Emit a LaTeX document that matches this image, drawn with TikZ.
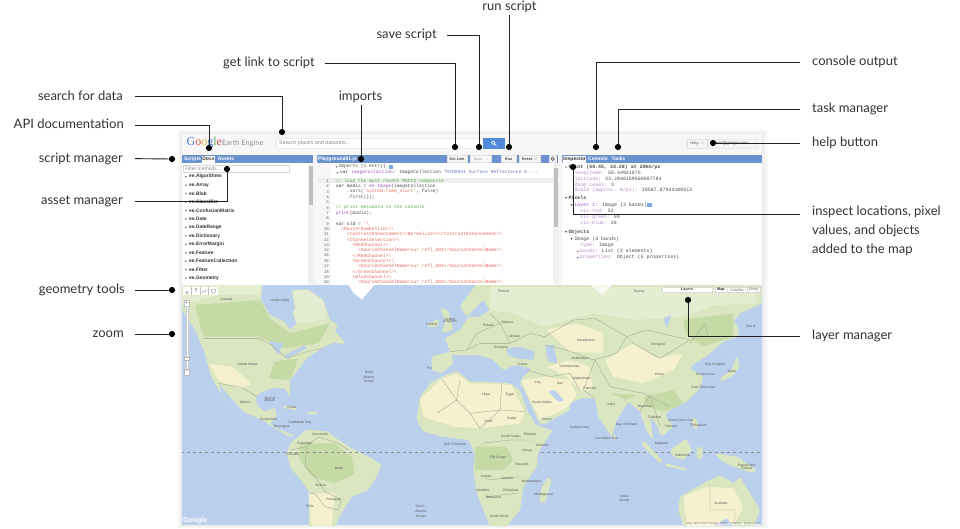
\documentclass[tikz,border=0pt]{standalone}
\usepackage{fontspec}
\setmainfont{Lato}
\newfontfamily\cmono{Liberation Mono}
\newfontfamily\uisans{Liberation Sans}
\newfontfamily\logoserif{Liberation Serif}
\definecolor{ink}{HTML}{222222}
\definecolor{labelgrey}{HTML}{333333}
\definecolor{headblue}{HTML}{6A92CF}
\definecolor{btnblue}{HTML}{4F8BD8}
\definecolor{ocean}{HTML}{BBD0ED}
\definecolor{landg}{HTML}{D9E6BF}
\definecolor{forest}{HTML}{C4DBA6}
\definecolor{pale}{HTML}{E4ECD2}
\definecolor{desert}{HTML}{F5F1CE}
\definecolor{border}{HTML}{9FA597}
\definecolor{tagred}{HTML}{E4685C}
\definecolor{cmtgreen}{HTML}{58AC4C}
\definecolor{kwpurple}{HTML}{9A55BE}
\definecolor{keylilac}{HTML}{B488CC}
\definecolor{strblue}{HTML}{6B78C8}
\newcount\mlcount
\newcommand{\ml}[3]{\global\advance\mlcount by 1 \node[maplab] (ml\the\mlcount) at (#1,#2) {#3};}
\newcommand{\cl}[3]{%
  \pgfmathsetmacro{\cy}{181+(#1-1)*5.33}%
  \pgfmathsetmacro{\cx}{335.7+#2*2.77}%
  \node[numtxt] (num#1) at (329,\cy) {#1};
  \node[codetxt] (code#1) at (\cx,\cy) {#3};}
\newcommand{\rp}[4][]{\node[rptxt,#1] (rp#2#3) at (#2,#3) {#4};}
\newcommand{\tridown}[2]{\fill[gray!70!black] (#1-1,#2-0.8) -- (#1+1,#2-0.8) -- (#1,#2+0.8) -- cycle;}
\newcommand{\triright}[2]{\fill[gray!70!black] (#1-0.7,#2-1) -- (#1+0.9,#2) -- (#1-0.7,#2+1) -- cycle;}
\tikzset{
  lab/.style={inner sep=0pt,font=\fontsize{13}{15}\selectfont,text=labelgrey,text height=10pt,text depth=3pt},
  conn/.style={draw=ink,line width=0.9pt},
  dot/.style={circle,fill=black,inner sep=0pt,minimum size=6.2pt},
  maplab/.style={inner sep=0pt,font=\uisans\fontsize{3.4}{4}\selectfont,text=black!65},
  codetxt/.style={inner sep=0pt,anchor=west,font=\cmono\fontsize{4.62}{5}\selectfont},
  numtxt/.style={inner sep=0pt,anchor=east,font=\cmono\fontsize{4.2}{5}\selectfont,text=black!60},
  rptxt/.style={inner sep=0pt,anchor=west,font=\cmono\fontsize{4.95}{5}\selectfont,text=black!70},
  tabw/.style={inner sep=0pt,font=\uisans\bfseries\fontsize{5}{6}\selectfont,text=white},
  tabd/.style={inner sep=0pt,font=\uisans\bfseries\fontsize{5}{6}\selectfont,text=black!80},
  btn/.style={draw=black!12,fill=black!4,inner sep=0pt,font=\uisans\bfseries\fontsize{3.8}{5}\selectfont,text=black!70},
  uitxt/.style={inner sep=0pt,font=\uisans\fontsize{5.4}{6}\selectfont,text=black!45},
  listitem/.style={inner sep=0pt,anchor=west,font=\uisans\bfseries\fontsize{4.9}{6}\selectfont,text=black!80},
  land/.style={fill=landg,draw=none,rounded corners=1.5pt},
  bline/.style={draw=border,line width=0.35pt,rounded corners=1pt},
  scopeA/.style={shift={(175,280)},x=0.33333pt,y=-0.33333pt},
  scopeB/.style={shift={(470,280)},x=0.33333pt,y=-0.33333pt},
}
\begin{document}
\begin{tikzpicture}[x=1pt,y=-1pt]
\useasboundingbox (0,0) rectangle (960,528);
\fill[white] (0,0) rectangle (960,528);
% ---------- application frame ----------
\fill[black!3] (178,130) rectangle (768,528);
\fill[black!7] (180,132) rectangle (765,527);
\fill[black!3] (182,134) rectangle (762,155);
\fill[white] (182,155) rectangle (762,285);
% header
\node[inner sep=0pt,anchor=west,font=\logoserif\fontsize{12}{14}\selectfont] (logo) at (186.5,143)
  {\textcolor[HTML]{4A7FD6}{G}\textcolor[HTML]{D9534A}{o}\textcolor[HTML]{E8B93A}{o}\textcolor[HTML]{4A7FD6}{g}\textcolor[HTML]{5BA85A}{l}\textcolor[HTML]{D9534A}{e}};
\node[inner sep=0pt,anchor=west,font=\fontsize{7.4}{9}\selectfont,text=black!45] (ee) at (222,143.5) {Earth Engine};
\fill[white,draw=black!8] (276,138) rectangle (483,148.5);
\node[uitxt,anchor=west] (searchtxt) at (279,143) {Search places and datasets...};
\fill[btnblue] (483,138) rectangle (505,148.5);
\draw[white,line width=0.6pt] (493.2,142.6) circle (1.8) (494.6,144) -- (496.4,145.8);
\node[btn,minimum width=20pt,minimum height=8.5pt] (help) at (697,143.5) {\textcolor{black!50}{Help\ \ ▾}};
\fill[black!4,draw=black!8] (708,139) rectangle (757,148);
\node[inner sep=0pt,anchor=west,font=\uisans\fontsize{4.1}{5}\selectfont,text=black!70] (acct) at (711,143.5) {admin@google.com};
% ---- panel headers ----
\fill[headblue] (182,155) rectangle (313,163);
\fill[headblue] (317,155) rectangle (558,163);
\fill[headblue] (562,155) rectangle (762,163);
\fill[black!4] (313,155) rectangle (317,285) (558,155) rectangle (562,285);
% left panel
\node[tabw] (tScripts) at (192.5,159) {Scripts};
\fill[white] (201.5,155.5) rectangle (215,163);
\node[tabd] (tDocs) at (208.5,159) {Docs};
\node[tabw] (tAssets) at (226,159) {Assets};
\draw[black!15,fill=white] (183.5,165) rectangle (289,172);
\node[uitxt,anchor=west,font=\uisans\fontsize{5}{6}\selectfont] (filter) at (185,168.6) {Filter methods...};
\fill[black!6] (308,165) rectangle (313,284);
\fill[black!25] (308.5,166) rectangle (312.8,205);
\foreach \t [count=\i from 0] in {Algorithms,Array,Blob,Classifier,ConfusionMatrix,Date,DateRange,Dictionary,ErrorMargin,Feature,FeatureCollection,Filter,Geometry}{
  \pgfmathsetmacro{\ly}{176.7+\i*8.45}
  \triright{186}{\ly}
  \node[listitem] (li\i) at (189,\ly) {ee.\t};
}
% middle panel
\node[inner sep=0pt,anchor=west,font=\uisans\bfseries\fontsize{5}{6}\selectfont,text=white] (pg) at (318,159) {Playground01.js};
\node[btn,minimum width=20.5pt,minimum height=6.5pt] (bLink) at (457,158.8) {Get Link};
\node[btn,minimum width=21pt,minimum height=6.5pt,text=black!30,fill=black!2] (bSave) at (481,158.8) {Save\ \ \ ▾};
\node[btn,minimum width=15pt,minimum height=6.5pt] (bRun) at (508.5,158.8) {Run};
\node[btn,minimum width=21pt,minimum height=6.5pt] (bReset) at (529.5,158.8) {Reset\ \ ▾};
\node[btn,minimum width=7pt,minimum height=7pt] (bGear) at (552.7,158.8) {};
\draw[black!55,line width=0.9pt] (552.7,158.8) circle (1.7);
\fill[black!3] (318,163) rectangle (331,285);
\fill[black!7] (318,178.4) rectangle (553,183.4);
\fill[black!6] (553,164) rectangle (558,284);
\fill[black!25] (554,168) rectangle (558,227);
\begin{scope}
\clip (318,163) rectangle (553,284.5);
\triright{336.5}{166.7}
\node[codetxt,text=black!70] (imp1) at (335.7,166.7) {\ Imports (1 entry)};
\fill[btnblue!75] (388.5,164.8) rectangle (392.7,169);
\triright{337.5}{172.7}
\node[codetxt] (imp2) at (340,172.7) {\textcolor{black!80}{var} \textcolor{kwpurple}{imageCollection}\textcolor{black!70}{: ImageCollection} \textcolor{strblue}{"MYD09A1 Surface Reflectance 8-...}};
\cl{1}{0}{\textcolor{cmtgreen}{// load the most recent MODIS composite}}
\cl{2}{0}{\textcolor{black!80}{var modis =} \textcolor{kwpurple}{ee.Image}\textcolor{black!70}{(imageCollection}}
\cl{3}{4}{\textcolor{black!70}{.sort(}\textcolor{tagred}{'system:time\_start'}\textcolor{black!70}{, false)}}
\cl{4}{4}{\textcolor{black!70}{.first());}}
\cl{5}{0}{}
\cl{6}{0}{\textcolor{cmtgreen}{// print metadata to the console}}
\cl{7}{0}{\textcolor{kwpurple}{print}\textcolor{black!70}{(modis);}}
\cl{8}{0}{}
\cl{9}{0}{\textcolor{black!80}{var sld =} \textcolor{tagred}{'\textbackslash}}
\cl{10}{2}{\textcolor{tagred}{<RasterSymbolizer>\textbackslash}}
\cl{11}{4}{\textcolor{tagred}{<ContrastEnhancement><Normalize/></ContrastEnhancement>\textbackslash}}
\cl{12}{4}{\textcolor{tagred}{<ChannelSelection>\textbackslash}}
\cl{13}{6}{\textcolor{tagred}{<RedChannel>\textbackslash}}
\cl{14}{8}{\textcolor{tagred}{<SourceChannelName>sur\_refl\_b01</SourceChannelName>\textbackslash}}
\cl{15}{6}{\textcolor{tagred}{</RedChannel>\textbackslash}}
\cl{16}{6}{\textcolor{tagred}{<GreenChannel>\textbackslash}}
\cl{17}{8}{\textcolor{tagred}{<SourceChannelName>sur\_refl\_b04</SourceChannelName>\textbackslash}}
\cl{18}{6}{\textcolor{tagred}{</GreenChannel>\textbackslash}}
\cl{19}{6}{\textcolor{tagred}{<BlueChannel>\textbackslash}}
\cl{20}{8}{\textcolor{tagred}{<SourceChannelName>sur\_refl\_b03</SourceChannelName>\textbackslash}}
\end{scope}
% right panel
\fill[white] (563,155.5) rectangle (586,163);
\node[tabd] (tInsp) at (574.5,159) {Inspector};
\node[tabw] (tCons) at (598,159) {Console};
\node[tabw] (tTasks) at (618.5,159) {Tasks};
\tridown{566}{167.3}
\rp[font=\cmono\bfseries\fontsize{4.95}{5}\selectfont]{568.3}{167.3}{Point (50.45, 33.28) at 20km/px}
\rp{574.3}{173.3}{\textcolor{keylilac}{longitude:} 50.44921875}
\rp{574.3}{179}{\textcolor{keylilac}{latitude:} 33.2846159560087784}
\rp{574.3}{184.7}{\textcolor{keylilac}{Zoom Level:} 3}
\rp{574.3}{190.7}{\textcolor{keylilac}{Scale (approx. m/px):} 19567.87924100512}
\tridown{566}{198}
\rp[font=\cmono\bfseries\fontsize{4.95}{5}\selectfont]{568.3}{198}{Pixels}
\tridown{571.5}{205}
\rp{574.3}{205}{\textcolor{kwpurple}{Layer 1:} Image (3 bands)}
\fill[btnblue!75] (647,203) rectangle (652,207.4);
\rp{580}{211}{\textcolor{keylilac}{vis-red:} 52}
\rp{580}{217}{\textcolor{keylilac}{vis-green:} 59}
\rp{580}{222.7}{\textcolor{keylilac}{vis-blue:} 26}
\tridown{566}{232}
\rp[font=\cmono\bfseries\fontsize{4.95}{5}\selectfont]{568.3}{232}{Objects}
\tridown{571.5}{239}
\rp{574.3}{239}{Image (3 bands)}
\rp{580}{245}{\textcolor{keylilac}{type:} Image}
\triright{578}{251.3}
\rp{580}{251.3}{\textcolor{keylilac}{bands:} List (3 elements)}
\triright{578}{257.7}
\rp{580}{257.7}{\textcolor{keylilac}{properties:} Object (5 properties)}
% ---------- map ----------
\begin{scope}
\clip (182,285) rectangle (762,525);
\fill[ocean] (182,285) rectangle (762,525);
\begin{scope}[scopeA]
  % North America
  \fill[land] (22,13) -- (262,13) -- (258,60) -- (285,105) -- (330,125) -- (345,150) -- (365,130) -- (352,100) -- (360,85) -- (350,30) -- (400,28) -- (445,60) -- (465,120) -- (490,135) -- (478,150) -- (512,192) -- (475,188) -- (440,205) -- (425,215) -- (395,235) -- (375,262) -- (345,300) -- (345,352) -- (330,325) -- (300,322) -- (260,335) -- (243,350) -- (245,375) -- (268,395) -- (300,383) -- (305,410) -- (285,430) -- (305,445) -- (330,455) -- (360,468) -- (340,470) -- (300,445) -- (262,420) -- (205,395) -- (165,350) -- (130,310) -- (140,340) -- (160,370) -- (125,320) -- (105,280) -- (90,220) -- (60,150) -- (22,90) -- cycle;
  \fill[pale] (22,13) -- (262,13) -- (255,45) -- (130,45) -- (60,65) -- (22,75) -- cycle;
  \fill[pale] (355,32) -- (400,30) -- (445,62) -- (455,115) -- (400,130) -- (365,125) -- (355,100) -- (362,85) -- cycle;
  \fill[forest,rounded corners=1.5pt] (60,75) -- (255,60) -- (285,115) -- (345,160) -- (465,130) -- (430,190) -- (330,205) -- (250,170) -- (85,170) -- cycle;
  \fill[forest,rounded corners=1.5pt] (300,245) -- (370,235) -- (345,300) -- (280,295) -- cycle;
  \fill[desert,rounded corners=1.5pt] (100,250) -- (170,260) -- (230,310) -- (200,325) -- (135,305) -- cycle;
  \fill[ocean] (280,183) -- (325,190) -- (310,225) -- (300,210) -- cycle (330,225) -- (390,195) -- (395,205) -- (335,235) -- cycle;
  \draw[bline] (85,175) -- (250,175) -- (290,195) -- (335,235) -- (395,215) -- (440,205);
  \draw[bline] (130,310) -- (200,322) -- (245,350);
  % islands
  \fill[land] (320,378) -- (360,380) -- (368,392) -- (330,385) -- cycle (395,395) -- (430,395) -- (425,403) -- (395,402) -- cycle;
  \fill[white] (520,13) -- (600,13) -- (560,58) -- (535,38) -- cycle;
  \fill[land] (755,130) -- (790,125) -- (785,142) -- (760,140) -- cycle;
  \fill[land] (795,85) -- (820,90) -- (835,150) -- (800,160) -- (812,122) -- cycle (778,118) -- (790,118) -- (790,138) -- (770,138) -- cycle;
  % South America
  \fill[land] (370,470) -- (395,448) -- (460,455) -- (490,480) -- (530,505) -- (590,535) -- (620,555) -- (605,590) -- (580,630) -- (530,650) -- (505,690) -- (480,740) -- (400,740) -- (405,640) -- (385,610) -- (345,560) -- (335,520) -- (345,490) -- cycle;
  \fill[forest,rounded corners=1.5pt] (375,490) -- (480,490) -- (530,530) -- (540,580) -- (480,610) -- (410,590) -- (370,530) -- cycle;
  \fill[desert] (400,640) -- (480,640) -- (470,740) -- (410,740) -- cycle;
  \draw[bline] (345,510) -- (395,500) -- (390,560) -- (420,590) -- (450,635) -- (500,660) -- (490,690) -- (450,680) -- (420,640) -- (405,640);
  \draw[bline] (395,500) -- (430,470) -- (490,490) -- (520,510);
  \draw[dashed,black!45,line width=0.3pt] (0,515) -- (1760,515);
  \ml{462}{20}{}
  \ml{155}{58}{Canada}
  \ml{315}{63}{Hudson Bay}
  \ml{218}{253}{United States}
  \ml{212}{366}{Mexico}
  \ml{285}{355}{Gulf of}
  \ml{285}{362}{Mexico}
  \ml{350}{382}{Cuba}
  \ml{435}{462}{Venezuela}
  \ml{388}{491}{Colombia}
  \ml{492}{566}{Brazil}
  \ml{437}{617}{Bolivia}
  \ml{476}{658}{Paraguay}
  \ml{405}{680}{Chile}
  \ml{354}{522}{Ecuador}
  \ml{320}{440}{Nicaragua}
  \ml{280}{417}{Guatemala}
  \ml{770}{134}{Iceland}
  \ml{825}{117}{United}
  \ml{825}{124}{Kingdom}
  \ml{582}{277}{North}
  \ml{582}{291}{Atlantic}
  \ml{582}{304}{Ocean}
  \ml{735}{680}{South}
  \ml{738}{695}{Atlantic}
  \ml{738}{708}{Ocean}
  \ml{375}{427}{Caribbean Sea}
  \ml{810}{241}{Spain}
  \ml{775}{266}{Portugal}
  \ml{845}{195}{France}
  \ml{790}{313}{Morocco}
  \ml{845}{338}{Algeria}
  \ml{817}{405}{Mali}
  \ml{775}{398}{Mauritania}
  \ml{840}{492}{Gulf of Guinea}
\end{scope}
\begin{scope}[scopeB]
  % Africa
  \fill[land] (-85,290) -- (-120,310) -- (-150,350) -- (-160,420) -- (-140,455) -- (-85,470) -- (-5,480) -- (15,520) -- (10,570) -- (20,640) -- (50,715) -- (60,740) -- (110,740) -- (150,690) -- (160,620) -- (200,560) -- (205,515) -- (248,450) -- (210,440) -- (175,400) -- (150,330) -- (120,310) -- (50,305) -- (0,305) -- (-40,272) -- cycle;
  \fill[desert,rounded corners=1.5pt] (-85,296) -- (-40,280) -- (0,310) -- (50,310) -- (125,315) -- (165,400) -- (150,430) -- (30,445) -- (-50,440) -- (-140,410) -- (-150,355) -- (-110,320) -- cycle;
  \fill[forest,rounded corners=1.5pt] (15,500) -- (110,500) -- (130,540) -- (100,570) -- (15,570) -- cycle;
  % Madagascar
  \fill[land] (235,590) -- (245,600) -- (225,670) -- (208,665) -- (215,620) -- cycle;
  % Eurasia
  \fill[land] (20,13) -- (875,13) -- (875,70) -- (810,100) -- (790,125) -- (805,140) -- (805,170) -- (760,185) -- (715,225) -- (675,250) -- (660,265) -- (700,290) -- (690,325) -- (650,365) -- (600,390) -- (585,405) -- (610,440) -- (575,470) -- (560,435) -- (540,410) -- (550,480) -- (530,455) -- (510,395) -- (475,365) -- (440,420) -- (425,470) -- (385,410) -- (375,355) -- (330,355) -- (300,370) -- (300,390) -- (220,435) -- (205,425) -- (170,345) -- (150,315) -- (155,295) -- (185,265) -- (135,255) -- (100,270) -- (70,240) -- (30,225) -- (-10,225) -- (-55,225) -- (-50,250) -- (-85,280) -- (-115,270) -- (-115,230) -- (-60,215) -- (-75,175) -- (-30,150) -- (-5,110) -- (30,110) -- (60,90) -- (40,60) -- (10,90) -- (-10,110) -- (-30,80) -- (-5,45) -- cycle;
  \fill[pale,rounded corners=1.5pt] (60,20) -- (860,20) -- (860,70) -- (740,75) -- (640,110) -- (500,120) -- (370,100) -- (220,140) -- (130,100) -- (60,90) -- cycle;
  \fill[white,opacity=.75] (360,13) -- (430,13) -- (395,45) -- cycle;
  \fill[forest,rounded corners=1.5pt] (640,120) -- (790,100) -- (790,170) -- (700,200) -- (650,165) -- cycle (520,350) -- (610,330) -- (640,370) -- (585,395) -- (530,380) -- cycle (420,340) -- (500,345) -- (470,360) -- cycle;
  \fill[desert,rounded corners=1.5pt] (405,240) -- (490,190) -- (560,235) -- (640,220) -- (610,270) -- (520,310) -- (430,290) -- cycle (155,300) -- (230,290) -- (300,300) -- (320,345) -- (290,385) -- (210,420) -- (170,340) -- cycle (230,260) -- (300,240) -- (360,260) -- (370,330) -- (330,330) -- (290,290) -- cycle;
  \fill[desert,rounded corners=1.5pt] (230,150) -- (320,130) -- (400,160) -- (400,220) -- (300,215) -- cycle;
  % seas
  \fill[ocean,rounded corners=1pt] (110,205) -- (150,200) -- (195,215) -- (190,240) -- (140,235) -- (112,225) -- cycle;
  \fill[ocean,rounded corners=1pt] (225,195) -- (250,195) -- (262,250) -- (235,245) -- cycle;
  \fill[ocean,rounded corners=1pt] (235,335) -- (255,330) -- (282,362) -- (265,365) -- cycle;
  \fill[ocean] (146,322) -- (158,322) -- (207,430) -- (198,438) -- cycle;
  \fill[ocean,rounded corners=1pt] (580,115) -- (605,105) -- (590,145) -- cycle;
  % borders
  \draw[bline] (225,170) -- (310,120) -- (375,115) -- (470,170) -- (440,220) -- (370,240) -- (290,210) -- (225,195);
  \draw[bline] (470,170) -- (530,150) -- (660,180) -- (570,235) -- (490,190) -- (470,170);
  \draw[bline] (375,240) -- (420,320) -- (520,340) -- (600,380);
  \draw[bline] (375,240) -- (340,330) -- (375,355);
  \draw[bline] (0,400) -- (90,390) -- (95,310) (90,390) -- (165,395) (30,445) -- (90,390) (35,490) -- (120,480) -- (190,480) (50,600) -- (150,590) (50,650) -- (140,640);
  \draw[bline] (-100,400) -- (-40,360) -- (0,400) -- (30,445) (-40,360) -- (-30,300) (-85,296) -- (-40,360);
  \draw[bline] (-60,215) -- (-10,210) -- (30,190) -- (120,190) -- (180,160) -- (225,170);
  \draw[bline] (60,100) -- (90,130) -- (120,190) (-10,210) -- (20,160) -- (90,130);
  \draw[bline] (170,270) -- (240,290) -- (300,280) -- (330,330);
  \draw[bline] (660,190) -- (705,130) -- (715,170);
  \draw[bline] (510,395) -- (540,345) -- (570,440);
  % islands
  \fill[land] (750,295) -- (785,270) -- (800,230) -- (810,260) -- (790,285) -- (755,305) -- cycle;
  \fill[land] (665,415) -- (680,415) -- (685,445) -- (670,445) -- cycle;
  \fill[land] (520,480) -- (580,545) -- (570,550) -- (515,495) -- cycle;
  \fill[land] (600,510) -- (650,475) -- (665,510) -- (640,540) -- (610,530) -- cycle;
  \fill[land] (680,500) -- (700,505) -- (695,540) -- (680,535) -- cycle;
  \fill[land] (585,550) -- (650,565) -- (650,572) -- (585,558) -- cycle;
  \fill[land] (735,520) -- (800,530) -- (860,570) -- (850,580) -- (790,560) -- (750,540) -- cycle;
  \fill[land] (430,460) -- (440,475) -- (430,482) -- cycle;
  % Australia
  \fill[land] (630,650) -- (700,610) -- (750,585) -- (790,610) -- (810,590) -- (870,690) -- (850,740) -- (640,740) -- (625,690) -- cycle;
  \fill[desert,rounded corners=1.5pt] (640,650) -- (710,620) -- (790,625) -- (820,680) -- (790,740) -- (650,740) -- cycle;
  \fill[ocean] (735,735) -- (770,715) -- (790,740) -- cycle;
  \draw[bline] (720,610) -- (720,690) -- (795,690) -- (795,740);
  \ml{100}{33}{Finland}
  \ml{508}{33}{Russia}
  \ml{348}{182}{Kazakhstan}
  \ml{565}{195}{Mongolia}
  \ml{568}{282}{China}
  \ml{424}{372}{India}
  \ml{525}{379}{Myanmar}
  \ml{553}{412}{Thailand}
  \ml{603}{438}{Vietnam}
  \ml{686}{438}{Philippines}
  \ml{575}{491}{Malaysia}
  \ml{637}{526}{Indonesia}
  \ml{706}{282}{South Korea}
  \ml{785}{275}{Japan}
  \ml{753}{671}{Australia}
  \ml{830}{557}{Papua New}
  \ml{830}{564}{Guinea}
  \ml{298}{259}{Turkmenistan}
  \ml{330}{234}{Uzbekistan}
  \ml{335}{297}{Afghanistan}
  \ml{360}{325}{Pakistan}
  \ml{270}{311}{Iran}
  \ml{203}{308}{Iraq}
  \ml{157}{254}{Turkey}
  \ml{215}{368}{Saudi Arabia}
  \ml{230}{418}{Yemen}
  \ml{48}{345}{Libya}
  \ml{120}{345}{Egypt}
  \ml{55}{423}{Chad}
  \ml{125}{414}{Sudan}
  \ml{180}{463}{Ethiopia}
  \ml{122}{469}{South Sudan}
  \ml{217}{497}{Somalia}
  \ml{172}{511}{Kenya}
  \ml{85}{532}{DR Congo}
  \ml{155}{553}{Tanzania}
  \ml{48}{590}{Angola}
  \ml{111}{595}{Zambia}
  \ml{185}{604}{Mozambique}
  \ml{122}{630}{Zimbabwe}
  \ml{38}{632}{Namibia}
  \ml{70}{652}{Botswana}
  \ml{88}{710}{South Africa}
  \ml{221}{644}{Madagascar}
  \ml{55}{137}{Poland}
  \ml{112}{128}{Belarus}
  \ml{133}{169}{Ukraine}
  \ml{93}{203}{Romania}
  \ml{463}{650}{Indian}
  \ml{463}{660}{Ocean}
  \ml{328}{441}{Arabian Sea}
  \ml{470}{433}{Bay of Bengal}
  \ml{410}{476}{Laccadive Sea}
  \ml{842}{140}{Sea of}
  \ml{700}{322}{East China Sea}
  \ml{735}{255}{Sea of Japan}
  \ml{632}{420}{South China Sea}
\end{scope}
\end{scope}
% map controls
\fill[white] (183,287) rectangle (218,295);
\draw[black!25,line width=0.25pt] (191.5,287) -- (191.5,295) (200,287) -- (200,295) (208.5,287) -- (208.5,295);
\draw[black!45,line width=0.4pt] (187,292.5) circle (1.4) (196,293) -- (196,290) (195.8,289.3) circle (0.9);
\draw[black!45,line width=0.4pt] (202,293) -- (204,290.5) -- (205.5,291.5) -- (207,289.5);
\draw[black!45,line width=0.4pt] (211,289.5) -- (216,289.5) -- (214.5,293) -- (212,292.5) -- cycle;
\fill[white,draw=black!25,line width=0.2pt] (184,300) rectangle (189.3,306);
\node[inner sep=0pt,font=\uisans\fontsize{5}{5}\selectfont,text=black!60] (zp) at (186.6,303) {+};
\fill[white,draw=black!20,line width=0.2pt] (185.6,306) rectangle (187.6,369);
\fill[white,draw=black!30,line width=0.2pt] (184,357) rectangle (189.3,360);
\fill[white,draw=black!25,line width=0.2pt] (184,369) rectangle (189.3,375);
\node[inner sep=0pt,font=\uisans\fontsize{5}{5}\selectfont,text=black!60] (zm) at (186.6,372) {--};
\node[inner sep=0pt,anchor=west,font=\uisans\bfseries\fontsize{7}{8}\selectfont,text=white] (glogo) at (183,521) {Google};
\node[inner sep=0pt,anchor=east,font=\uisans\fontsize{2.9}{4}\selectfont,text=black!55,fill=white,fill opacity=.5,text opacity=1] (mapdata) at (761,524) {Map data ©2014 Google, INEGI \ \ 1000 km \ \ Terms of Use};
\node[draw=black!15,fill=white,inner sep=0pt,minimum width=50pt,minimum height=5.6pt,font=\uisans\bfseries\fontsize{3.8}{5}\selectfont,text=black!70] (layers) at (687,289.7) {Layers};
\node[draw=black!15,fill=white,inner sep=0pt,minimum width=12pt,minimum height=5.6pt,font=\uisans\bfseries\fontsize{3.8}{5}\selectfont,text=black!80] (mMap) at (721,289.7) {Map};
\node[draw=black!15,fill=white,fill opacity=.85,text opacity=1,inner sep=0pt,minimum width=19.5pt,minimum height=5.6pt,font=\uisans\fontsize{3.8}{5}\selectfont,text=black!50] (mSat) at (737,289.7) {Satellite};
\node[draw=black!15,fill=white,fill opacity=.85,text opacity=1,inner sep=0pt,minimum width=13pt,minimum height=5.6pt,font=\uisans\fontsize{3.8}{5}\selectfont,text=black!50] (mDeep) at (753.5,289.7) {Deep};
% ---------- callouts ----------
\node[lab,anchor=center] (lRun) at (509.5,7) {run script};
\node[lab,anchor=east] (lSave) at (437,35) {save script};
\node[lab,anchor=east] (lLink) at (315,63) {get link to script};
\node[lab,anchor=center] (lImports) at (360.5,97) {imports};
\node[lab,anchor=east] (lSearch) at (123,96.5) {search for data};
\node[lab,anchor=east] (lApi) at (124,125) {API documentation};
\node[lab,anchor=east] (lScript) at (123,158.5) {script manager};
\node[lab,anchor=east] (lAsset) at (123,201) {asset manager};
\node[lab,anchor=east] (lGeom) at (125,290) {geometry tools};
\node[lab,anchor=east] (lZoom) at (124,334) {zoom};
\node[lab,anchor=west] (lConsole) at (812,62) {console output};
\node[lab,anchor=west] (lTask) at (812,109) {task manager};
\node[lab,anchor=west] (lHelp) at (812,143) {help button};
\node[lab,anchor=west] (lLayer) at (812,336) {layer manager};
\node[lab,anchor=north west,align=left,text height=,text depth=,font=\fontsize{13}{19}\selectfont] (lInspect) at (812,206) {inspect locations, pixel\\values, and objects\\added to the map};
\coordinate (cInspect) at (800,214);
\node[dot] (dRun) at (509,147) {};
\node[dot] (dSave) at (479,147) {};
\node[dot] (dLink) at (455,147) {};
\node[dot] (dImports) at (361,159) {};
\node[dot] (dSearch) at (282,132) {};
\node[dot] (dApi) at (209,148) {};
\node[dot] (dScript) at (172,159) {};
\node[dot] (dAsset) at (227,169) {};
\node[dot] (dGeom) at (172,290) {};
\node[dot] (dZoom) at (172,334) {};
\node[dot] (dConsole) at (596,147) {};
\node[dot] (dTask) at (618,147) {};
\node[dot] (dHelp) at (713,143) {};
\node[dot] (dInspect) at (573,167) {};
\node[dot] (dLayer) at (688,300) {};
\draw[conn,shorten <=1pt] (dRun |- lRun.south) -- (dRun);
\draw[conn,shorten <=10pt] (lSave.east) -| (dSave);
\draw[conn,shorten <=10pt] (lLink.east) -| (dLink);
\draw[conn,shorten <=1pt] (dImports |- lImports.south) -- (dImports);
\draw[conn,shorten <=12pt] (lSearch.east) -| (dSearch);
\draw[conn,shorten <=11pt] (lApi.east) -| (dApi);
\draw[conn,shorten <=12pt] (lScript.east) -- (dScript);
\draw[conn,shorten <=12pt] (lAsset.east) -| (dAsset);
\draw[conn,shorten <=10pt] (lGeom.east) -- (dGeom);
\draw[conn,shorten <=11pt] (lZoom.east) -- (dZoom);
\draw[conn,shorten <=12pt] (lConsole.west) -| (dConsole);
\draw[conn,shorten <=12pt] (lTask.west) -| (dTask);
\draw[conn,shorten <=12pt] (lHelp.west) -- (dHelp);
\draw[conn,shorten <=12pt] (lLayer.west) -| (dLayer);
\draw[conn] (cInspect) -| (dInspect);
\end{tikzpicture}
\end{document}
